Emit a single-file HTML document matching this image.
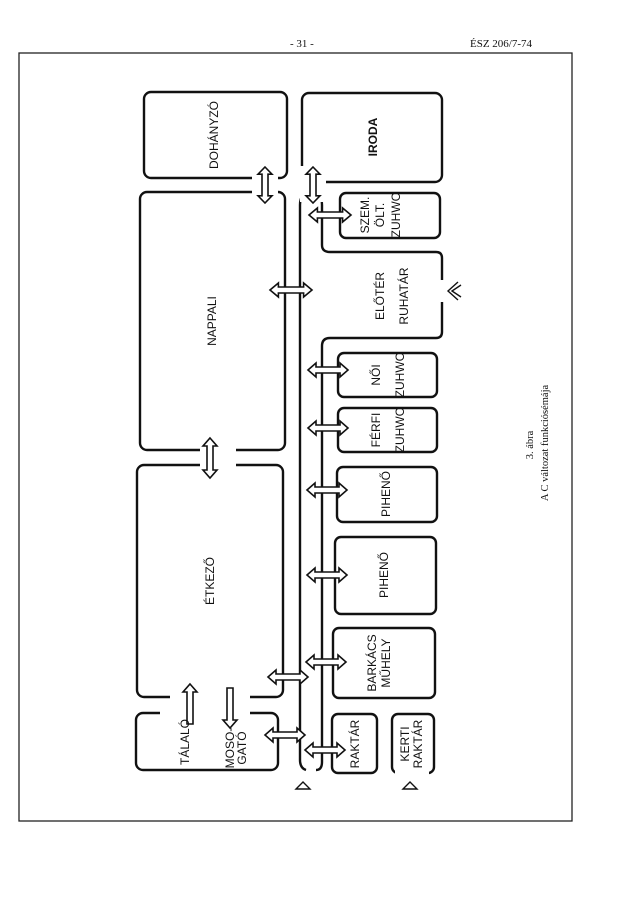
<!DOCTYPE html>
<html><head><meta charset="utf-8"><style>
html,body{margin:0;padding:0;background:#fff;}
svg{display:block;}
text{font-family:"Liberation Sans",sans-serif;fill:#111;}
</style></head><body>
<svg width="627" height="900" viewBox="0 0 627 900" xmlns="http://www.w3.org/2000/svg">
<defs>
<polygon id="da" points="-20,0 -12,-7 -12,-3 12,-3 12,-7 20,0 12,7 12,3 -12,3 -12,7" fill="#fff" stroke="#111" stroke-width="1.6" vector-effect="non-scaling-stroke"/>
<polygon id="sa" points="-20,0 -12,-7 -12,-3 20,-3 20,3 -12,3 -12,7" fill="#fff" stroke="#111" stroke-width="1.6" vector-effect="non-scaling-stroke"/>
</defs>
<text x="290" y="47" font-size="11" style="font-family:'Liberation Serif',serif">- 31 -</text>
<text x="470" y="47" font-size="11" style="font-family:'Liberation Serif',serif">ÉSZ 206/7-74</text>
<rect x="19" y="53" width="553" height="768" fill="none" stroke="#222" stroke-width="1.3"/>

<g fill="none" stroke="#111" stroke-width="2.4">
<rect x="144" y="92" width="143" height="86" rx="7"/>
<rect x="140" y="192" width="145" height="258" rx="7"/>
<rect x="137" y="465" width="146" height="232" rx="7"/>
<rect x="136" y="713" width="142" height="57" rx="7"/>
<rect x="302" y="93" width="140" height="89" rx="7"/>
<rect x="340" y="193" width="100" height="45" rx="6"/>
<rect x="338" y="353" width="99" height="44" rx="6"/>
<rect x="338" y="408" width="99" height="44" rx="6"/>
<rect x="337" y="467" width="100" height="55" rx="6"/>
<rect x="335" y="537" width="101" height="77" rx="6"/>
<rect x="333" y="628" width="102" height="70" rx="6"/>
<rect x="332" y="714" width="45" height="59" rx="6"/>
<rect x="392" y="714" width="42" height="59" rx="6"/>
<path d="M300 205 Q300 193 310 193 M300 205 L300 760 Q300 768 306 770"/>
<path d="M312 190 Q322 192 322 205 L322 245 Q322 252 330 252 L436 252 Q442 252 442 258 L442 332 Q442 338 436 338 L330 338 Q322 338 322 346 L322 762 Q322 770 316 770"/>
</g>
<g fill="#fff">
<rect x="200" y="444" width="36" height="12"/>
<rect x="200" y="459" width="36" height="12"/>
<rect x="170" y="692" width="80" height="10"/>
<rect x="160" y="708" width="90" height="10"/>
<rect x="252" y="172" width="26" height="26"/>
<rect x="300" y="166" width="26" height="36"/>
<rect x="436" y="280" width="10" height="22"/>
<rect x="395" y="768" width="34" height="8"/>
</g>
<use href="#da" transform="translate(265,185) rotate(90) scale(0.9,1)"/>
<use href="#da" transform="translate(313,185) rotate(90) scale(0.9,1)"/>
<use href="#da" transform="translate(330,215) scale(1.05,1)"/>
<use href="#da" transform="translate(291,290) scale(1.05,1)"/>
<use href="#da" transform="translate(210,458) rotate(90)"/>
<use href="#da" transform="translate(328,370)"/>
<use href="#da" transform="translate(328,428)"/>
<use href="#da" transform="translate(327,490)"/>
<use href="#da" transform="translate(327,575)"/>
<use href="#da" transform="translate(326,662)"/>
<use href="#da" transform="translate(288,677)"/>
<use href="#da" transform="translate(285,735)"/>
<use href="#da" transform="translate(325,750)"/>
<use href="#sa" transform="translate(190,704) rotate(90)"/>
<use href="#sa" transform="translate(230,708) rotate(-90)"/>
<g fill="none" stroke="#111" stroke-width="1.4">
<path d="M296 789 L303 782 L310 789 Z"/>
<path d="M403 789 L410 782 L417 789 Z"/>
<path d="M458 282 L448 291 L458 300 M461 285 L452 291 L461 297"/>
</g>
<g font-size="12">
<text transform="translate(218,135) rotate(-90)" text-anchor="middle">DOHÁNYZÓ</text>
<text transform="translate(216,321) rotate(-90)" text-anchor="middle">NAPPALI</text>
<text transform="translate(214,581) rotate(-90)" text-anchor="middle">ÉTKEZŐ</text>
<text transform="translate(377,137) rotate(-90)" text-anchor="middle" font-weight="bold">IRODA</text>
<text transform="translate(369,215) rotate(-90)" text-anchor="middle">SZEM.</text>
<text transform="translate(384,215) rotate(-90)" text-anchor="middle">ÖLT.</text>
<text transform="translate(400,215) rotate(-90)" text-anchor="middle">ZUHWC</text>
<text transform="translate(384,296) rotate(-90)" text-anchor="middle">ELŐTÉR</text>
<text transform="translate(408,296) rotate(-90)" text-anchor="middle">RUHATÁR</text>
<text transform="translate(380,375) rotate(-90)" text-anchor="middle">NŐI</text>
<text transform="translate(404,375) rotate(-90)" text-anchor="middle">ZUHWC</text>
<text transform="translate(380,430) rotate(-90)" text-anchor="middle">FÉRFI</text>
<text transform="translate(404,430) rotate(-90)" text-anchor="middle">ZUHWC</text>
<text transform="translate(390,494) rotate(-90)" text-anchor="middle">PIHENŐ</text>
<text transform="translate(388,575) rotate(-90)" text-anchor="middle">PIHENŐ</text>
<text transform="translate(376,663) rotate(-90)" text-anchor="middle">BARKÁCS</text>
<text transform="translate(390,663) rotate(-90)" text-anchor="middle">MŰHELY</text>
<text transform="translate(359,744) rotate(-90)" text-anchor="middle">RAKTÁR</text>
<text transform="translate(409,744) rotate(-90)" text-anchor="middle">KERTI</text>
<text transform="translate(422,744) rotate(-90)" text-anchor="middle">RAKTÁR</text>
<text transform="translate(189,742) rotate(-90)" text-anchor="middle">TÁLALÓ</text>
<text transform="translate(234,748) rotate(-90)" text-anchor="middle">MOSO-</text>
<text transform="translate(246,748) rotate(-90)" text-anchor="middle">GATÓ</text>
</g>
<text transform="translate(533,445) rotate(-90)" text-anchor="middle" font-size="10.5" style="font-family:'Liberation Serif',serif">3.  ábra</text>
<text transform="translate(548,443) rotate(-90)" text-anchor="middle" font-size="10.5" style="font-family:'Liberation Serif',serif">A  C  változat funkciósémája</text>
</svg>
</body></html>
